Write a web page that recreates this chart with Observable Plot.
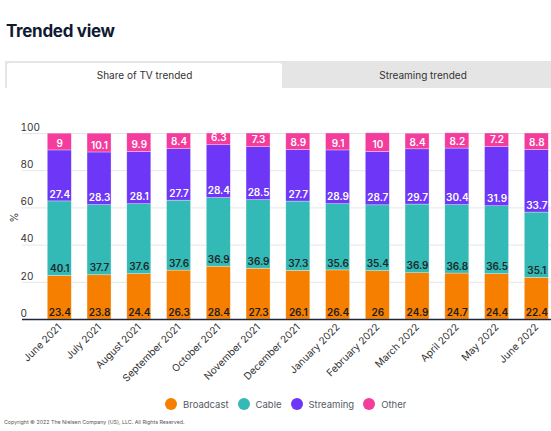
<!DOCTYPE html>
<html>
<head>
<meta charset="utf-8">
<script src="https://cdn.jsdelivr.net/npm/d3@7"></script>
<script src="https://cdn.jsdelivr.net/npm/@observablehq/plot@0.6"></script>
<style>
  html, body { margin: 0; padding: 0; background: #fff; overflow: hidden; }
  body { width: 551px; height: 431px; position: relative; font-family: Inter, "Noto Sans", sans-serif; }
  #title { position: absolute; left: 6px; top: 21px; font-size: 17px; font-weight: 700; color: #0f1a33; letter-spacing: -0.3px; }
  #tabs { position: absolute; left: 5px; top: 61px; width: 546px; height: 27px; background: #e5e5e5; }
  #tab1 { position: absolute; left: 2px; top: 2px; width: 275px; height: 25px; background: #fff; border-radius: 3px 3px 0 0; text-align: center; line-height: 25px; font-size: 10px; color: #333; }
  #tab2 { position: absolute; left: 277px; top: 2px; width: 282px; height: 25px; text-align: center; line-height: 25px; font-size: 10px; color: #333; }
  #chart { position: absolute; left: 0; top: 100px; }
  #legend { position: absolute; left: 165px; top: 398px; display: flex; font-size: 9.5px; color: #555b66; }
  #legend .item { display: flex; align-items: center; margin-right: 9px; }
  #legend .sw { width: 12px; height: 12px; border-radius: 50%; margin-right: 6px; }
  #copy { position: absolute; left: 4px; top: 419px; font-size: 5.3px; color: #555; }
</style>
</head>
<body>
<div id="title">Trended view</div>
<div id="tabs"><div id="tab1">Share of TV trended</div><div id="tab2">Streaming trended</div></div>
<div id="chart"></div>
<div id="legend"></div>
<div id="copy">Copyright © 2022 The Nielsen Company (US), LLC. All Rights Reserved.</div>
<script>
const months = ["June 2021","July 2021","August 2021","September 2021","October 2021","November 2021","December 2021","January 2022","February 2022","March 2022","April 2022","May 2022","June 2022"];
const seriesNames = ["Broadcast","Cable","Streaming","Other"];
const seriesColors = ["#F77F00","#33B9B6","#6E37F7","#F43C9C"];
const labelColors = ["#1d1d1d","#1d2a2a","#ffffff","#ffffff"];
const broadcast = [23.4,23.8,24.4,26.3,28.4,27.3,26.1,26.4,26,24.9,24.7,24.4,22.4];
const cable = [40.1,37.7,37.6,37.6,36.9,36.9,37.3,35.6,35.4,36.9,36.8,36.5,35.1];
const streaming = [27.4,28.3,28.1,27.7,28.4,28.5,27.7,28.9,28.7,29.7,30.4,31.9,33.7];
const other = [9,10.1,9.9,8.4,6.3,7.3,8.9,9.1,10,8.4,8.2,7.2,8.8];
const yTicks = [0,20,40,60,80,100];

const seriesValues = [broadcast, cable, streaming, other];
const data = [];
months.forEach((m, i) => {
  seriesNames.forEach((s, j) => data.push({month: m, series: s, value: seriesValues[j][i]}));
});
const labelColorOf = Object.fromEntries(seriesNames.map((s, j) => [s, labelColors[j]]));

const chart = Plot.plot({
  width: 551,
  height: 290,
  marginTop: 33,
  marginBottom: 71,
  marginLeft: 22,
  marginRight: 0,
  style: {fontFamily: "Inter, sans-serif", fontSize: "10px", color: "#333", background: "transparent"},
  x: {domain: months, range: [22, 573.6], paddingInner: 0.396, paddingOuter: 0.636, round: false},
  y: {domain: [0, 100], ticks: yTicks},
  color: {domain: seriesNames, range: seriesColors},
  marks: [
    Plot.ruleY(yTicks.filter(d => d > 0), {stroke: "#e3e6ea", strokeWidth: 1}),
    Plot.barY(data, Plot.stackY({x: "month", y: "value", fill: "series", stroke: "white", strokeWidth: 0.6, strokeOpacity: 0.5})),
    Plot.text(data, Plot.stackY1({x: "month", y: "value", z: "series", text: d => String(d.value), fill: d => labelColorOf[d.series], fontSize: 10, fontWeight: 600, dy: -7})),
    Plot.ruleY([0], {stroke: "#1c2638", strokeWidth: 1.6}),
    Plot.axisY({ticks: yTicks, tickSize: 0, textAnchor: "start", dx: 7, dy: -6, fontSize: 10, fill: "#333", label: "%", labelAnchor: "center", labelArrow: "none", labelOffset: 12}),
    Plot.axisX({tickSize: 0, tickRotate: -45, fontSize: 10, fill: "#333", label: null, tickPadding: 6})
  ]
});
const yLabel = chart.querySelector('g[aria-label="y-axis label"]');
if (yLabel) yLabel.setAttribute("transform", "translate(0,-9) " + (yLabel.getAttribute("transform") || ""));
document.getElementById("chart").appendChild(chart);

const legend = document.getElementById("legend");
seriesNames.forEach((s, j) => {
  const item = document.createElement("div");
  item.className = "item";
  const sw = document.createElement("div");
  sw.className = "sw";
  sw.style.background = seriesColors[j];
  const t = document.createElement("span");
  t.textContent = s;
  item.appendChild(sw); item.appendChild(t);
  legend.appendChild(item);
});
</script>
</body>
</html>
